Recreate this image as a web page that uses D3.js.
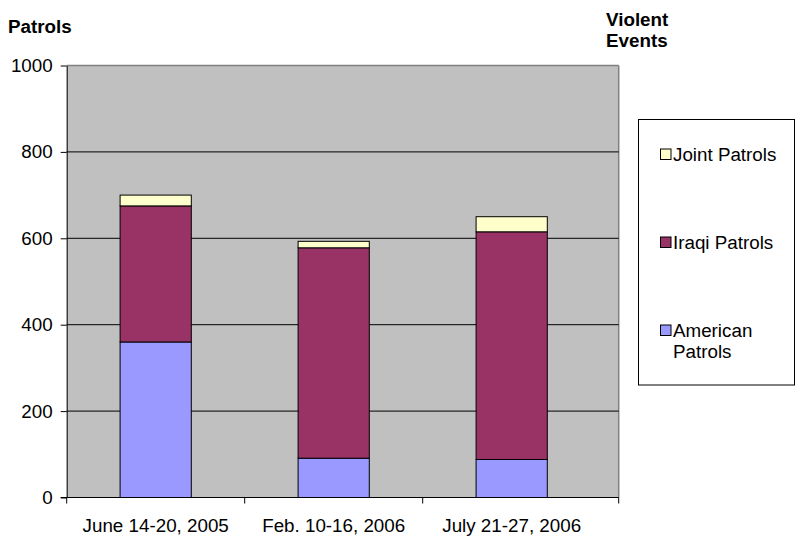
<!DOCTYPE html>
<html><head><meta charset="utf-8">
<script src="https://cdn.jsdelivr.net/npm/d3@7"></script>
<style>body{margin:0;background:#fff}svg{display:block;font-family:"Liberation Sans",Arial,sans-serif}</style>
</head><body>
<svg id="c" width="795" height="536"></svg>
<script>
const categories = ["June 14-20, 2005", "Feb. 10-16, 2006", "July 21-27, 2006"];
const americanPatrols = [360, 91, 88];
const iraqiPatrols = [315, 487, 527];
const jointPatrols = [25, 15, 35];
const seriesNames = ["American Patrols", "Iraqi Patrols", "Joint Patrols"];
const seriesColors = ["#9999FF", "#993366", "#FFFFCC"];
const yTicks = [0, 200, 400, 600, 800, 1000];

const FS = 18.8;
const svg = d3.select("#c");
const L = 66.7, R = 618.7, T = 65.5, B = 497.5;
const catRight = L + 3 * 178;

const x = d3.scaleBand().domain(categories).range([L, catRight]).paddingInner(0.6).paddingOuter(0.3);
const y = d3.scaleLinear().domain([0, 1000]).range([B, T]);

svg.append("rect").attr("x", L).attr("y", T).attr("width", R - L).attr("height", B - T).attr("fill", "#C0C0C0");
svg.append("line").attr("x1", L).attr("x2", R).attr("y1", T).attr("y2", T).attr("stroke", "#808080").attr("stroke-width", 1.5);
svg.append("line").attr("x1", R).attr("x2", R).attr("y1", T).attr("y2", B).attr("stroke", "#808080").attr("stroke-width", 1.5);

svg.append("g").selectAll("line").data(yTicks.filter(d => d > 0 && d < 1000)).join("line")
  .attr("x1", L).attr("x2", R).attr("y1", d => y(d)).attr("y2", d => y(d)).attr("stroke", "#000").attr("stroke-width", 1);

const rows = categories.map((c, i) => ({cat: c, a: americanPatrols[i], q: iraqiPatrols[i], j: jointPatrols[i]}));
const stack = d3.stack().keys(["a", "q", "j"])(rows);
svg.append("g").selectAll("g").data(stack).join("g")
  .attr("fill", (d, i) => seriesColors[i])
  .selectAll("rect").data(d => d).join("rect")
  .attr("x", d => x(d.data.cat)).attr("width", x.bandwidth())
  .attr("y", d => y(d[1])).attr("height", d => y(d[0]) - y(d[1]))
  .attr("stroke", "#000").attr("stroke-width", 1);

// Y axis
const yAxis = d3.axisLeft(y).tickValues(yTicks).tickFormat(d3.format("d")).tickSize(6).tickSizeOuter(0).tickPadding(8);
const ga = svg.append("g").attr("transform", `translate(${L},0)`).call(yAxis);
ga.attr("font-size", FS).attr("font-family", null);
ga.selectAll("text").attr("fill", "#000");
ga.select(".domain").attr("stroke", "#000");
ga.selectAll(".tick line").attr("stroke", "#000");

// X axis
const gx = svg.append("g").attr("transform", `translate(0,${B})`);
gx.append("line").attr("x1", L - 6).attr("x2", R).attr("stroke", "#000");
const tickX = [L, L + x.step(), L + 2 * x.step(), R];
gx.selectAll(".tk").data(tickX).join("line").attr("class", "tk")
  .attr("x1", d => d).attr("x2", d => d).attr("y1", 0).attr("y2", 6).attr("stroke", "#000");
gx.selectAll("text").data(categories).join("text")
  .attr("x", d => x(d) + x.bandwidth() / 2).attr("y", 34.2)
  .attr("text-anchor", "middle").attr("font-size", FS).text(d => d);

// Titles
svg.append("text").attr("x", 8).attr("y", 33).attr("font-size", FS).attr("font-weight", "bold").text("Patrols");
svg.append("text").attr("x", 606).attr("y", 25.7).attr("font-size", FS).attr("font-weight", "bold").text("Violent");
svg.append("text").attr("x", 606).attr("y", 47.3).attr("font-size", FS).attr("font-weight", "bold").text("Events");

// Legend
svg.append("rect").attr("x", 638.5).attr("y", 119.5).attr("width", 156).attr("height", 265.5).attr("fill", "#fff").attr("stroke", "#000");
const legendItems = [
  {name: seriesNames[2], color: seriesColors[2], y: 154, lines: ["Joint Patrols"]},
  {name: seriesNames[1], color: seriesColors[1], y: 242, lines: ["Iraqi Patrols"]},
  {name: seriesNames[0], color: seriesColors[0], y: 330, lines: ["American", "Patrols"]}
];
const lg = svg.append("g").selectAll("g").data(legendItems).join("g");
lg.append("rect").attr("x", 660.5).attr("y", d => d.y - 5).attr("width", 10.5).attr("height", 10.5)
  .attr("fill", d => d.color).attr("stroke", "#000");
lg.each(function(d) {
  d3.select(this).selectAll("text").data(d.lines).join("text")
    .attr("x", 673).attr("y", (t, i) => d.y + 6.5 + i * 21.6).attr("font-size", FS).text(t => t);
});
</script>
</body></html>
